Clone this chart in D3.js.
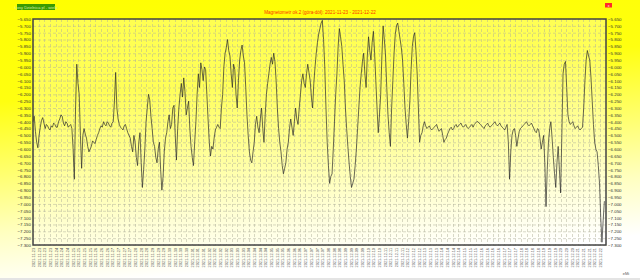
<!DOCTYPE html>
<html>
<head>
<meta charset="utf-8">
<script src="https://cdn.jsdelivr.net/npm/d3@7"></script>
<style>
  body { margin: 0; background: #fff; }
  svg { display: block; font-family: "Liberation Sans", Arial, sans-serif; }
</style>
</head>
<body>
<div id="chart"></div>
<script>
var width = 640, height = 280;
var margin = { top: 19, right: 34, bottom: 35, left: 33 };

// series: one reading every 1.5 hours from 2021-11-23 00:00
var startTime = new Date(2021, 10, 23, 0, 0);
var endTime = new Date(2021, 11, 22, 11, 0);
var stepMinutes = 90;
var values = [
  -6.40, -6.36, -6.47, -6.55, -6.59, -6.50, -6.44, -6.39, -6.37, -6.41, -6.45, -6.42, -6.43, -6.45, -6.46, -6.43, -6.44, -6.41, -6.42, -6.44,
  -6.44, -6.40, -6.38, -6.35, -6.36, -6.41, -6.43, -6.40, -6.41, -6.44, -6.43, -6.42, -6.45, -6.60, -6.82, -6.30, -5.98, -6.12, -6.20, -6.50,
  -6.74, -6.50, -6.45, -6.49, -6.52, -6.58, -6.62, -6.60, -6.58, -6.54, -6.55, -6.56, -6.53, -6.50, -6.48, -6.45, -6.43, -6.44, -6.40, -6.42,
  -6.43, -6.40, -6.41, -6.43, -6.44, -6.41, -6.40, -6.25, -6.04, -6.30, -6.38, -6.42, -6.44, -6.45, -6.46, -6.43, -6.42, -6.45, -6.48, -6.50,
  -6.52, -6.58, -6.62, -6.50, -6.55, -6.66, -6.72, -6.55, -6.48, -6.70, -6.88, -6.75, -6.60, -6.40, -6.30, -6.20, -6.24, -6.36, -6.45, -6.55,
  -6.58, -6.66, -6.70, -6.60, -6.55, -6.75, -6.90, -6.80, -6.62, -6.52, -6.48, -6.40, -6.35, -6.45, -6.42, -6.30, -6.28, -6.50, -6.68, -6.45,
  -6.30, -6.20, -6.12, -6.22, -6.08, -6.18, -6.35, -6.30, -6.25, -6.45, -6.58, -6.66, -6.72, -6.55, -6.40, -6.20, -6.05, -6.15, -5.97, -6.02,
  -6.10, -6.00, -6.02, -6.20, -6.38, -6.55, -6.65, -6.58, -6.60, -6.52, -6.46, -6.44, -6.42, -6.44, -6.45, -6.30, -6.20, -6.00, -5.90, -5.86,
  -5.80, -5.88, -5.92, -6.05, -6.15, -5.98, -6.02, -6.20, -6.30, -6.10, -5.95, -5.88, -5.84, -5.92, -5.97, -6.15, -6.35, -6.50, -6.62, -6.68,
  -6.70, -6.62, -6.55, -6.42, -6.36, -6.44, -6.48, -6.38, -6.30, -6.45, -6.55, -6.35, -6.20, -6.12, -6.05, -5.98, -5.93, -5.98, -5.90, -5.96,
  -6.10, -6.30, -6.45, -6.55, -6.62, -6.72, -6.78, -6.74, -6.70, -6.60, -6.55, -6.45, -6.38, -6.44, -6.50, -6.40, -6.30, -6.38, -6.42, -6.30,
  -6.20, -6.10, -6.05, -6.12, -6.15, -6.05, -5.98, -6.04, -6.10, -6.22, -6.30, -6.12, -6.00, -5.90, -5.82, -5.76, -5.72, -5.68, -5.66, -5.80,
  -6.00, -6.30, -6.55, -6.72, -6.85, -6.80, -6.78, -6.60, -6.40, -6.20, -6.05, -5.85, -5.72, -5.78, -5.85, -5.98, -6.10, -6.30, -6.45, -6.58,
  -6.70, -6.80, -6.88, -6.85, -6.82, -6.72, -6.60, -6.45, -6.30, -6.15, -6.05, -5.96, -5.90, -6.05, -6.15, -5.92, -5.78, -5.88, -5.95, -5.82,
  -5.74, -5.90, -6.10, -6.30, -6.48, -6.35, -6.20, -5.92, -5.70, -5.80, -5.92, -6.15, -6.35, -6.48, -6.58, -6.30, -6.10, -5.90, -5.76, -5.70,
  -5.68, -5.74, -5.80, -5.86, -5.95, -6.12, -6.30, -6.42, -6.52, -6.40, -6.25, -6.02, -5.85, -5.78, -5.75, -5.88, -6.05, -6.30, -6.55, -6.50,
  -6.48, -6.43, -6.40, -6.43, -6.45, -6.44, -6.43, -6.45, -6.46, -6.45, -6.44, -6.43, -6.42, -6.45, -6.47, -6.46, -6.45, -6.50, -6.55, -6.53,
  -6.52, -6.49, -6.47, -6.45, -6.44, -6.46, -6.45, -6.43, -6.42, -6.44, -6.43, -6.42, -6.41, -6.43, -6.44, -6.43, -6.42, -6.44, -6.45, -6.44,
  -6.43, -6.42, -6.44, -6.42, -6.41, -6.40, -6.40, -6.41, -6.42, -6.43, -6.44, -6.45, -6.43, -6.42, -6.41, -6.43, -6.44, -6.43, -6.42, -6.41,
  -6.40, -6.42, -6.43, -6.42, -6.41, -6.43, -6.44, -6.45, -6.46, -6.44, -6.42, -6.55, -6.82, -6.62, -6.50, -6.46, -6.45, -6.50, -6.58, -6.52,
  -6.47, -6.45, -6.44, -6.43, -6.42, -6.41, -6.40, -6.42, -6.43, -6.42, -6.41, -6.43, -6.45, -6.47, -6.48, -6.45, -6.46, -6.52, -6.60, -6.55,
  -6.50, -6.70, -7.02, -6.75, -6.55, -6.45, -6.40, -6.52, -6.66, -6.78, -6.88, -6.70, -6.58, -6.75, -6.92, -6.50, -6.05, -5.98, -5.96, -6.15,
  -6.35, -6.40, -6.42, -6.41, -6.40, -6.43, -6.45, -6.44, -6.43, -6.45, -6.46, -6.45, -6.44, -6.30, -6.10, -5.95, -5.88, -5.92, -5.95, -6.08,
  -6.25, -6.42, -6.55, -6.60, -6.62, -6.72, -6.85, -7.10, -7.28, -7.12, -6.98
];

var yMin = -7.30, yMax = -5.65, yStep = 0.05;
var titleText = "Magnetometr ok.2 (góra-dół): 2021-11-23 - 2021-12-22";
var legendText = "Łosy Dzielnica pl - wielo";
var cornerText = "eMi";

var data = values.map(function(v, i) {
  return { t: d3.timeMinute.offset(startTime, i * stepMinutes), v: v };
});

var svg = d3.select("#chart").append("svg")
  .attr("width", width)
  .attr("height", height);

var defs = svg.append("defs");
var grad = defs.append("linearGradient")
  .attr("id", "bg")
  .attr("x1", 0).attr("y1", 0).attr("x2", 0.2).attr("y2", 1);
grad.append("stop").attr("offset", 0).attr("stop-color", "#ffff00");
grad.append("stop").attr("offset", 0.35).attr("stop-color", "#ffff10");
grad.append("stop").attr("offset", 0.6).attr("stop-color", "#ffff70");
grad.append("stop").attr("offset", 0.8).attr("stop-color", "#ffffc0");
grad.append("stop").attr("offset", 1).attr("stop-color", "#ffffff");

svg.append("rect")
  .attr("width", width).attr("height", height)
  .attr("fill", "url(#bg)");

svg.append("rect")
  .attr("x", 0).attr("y", height - 2)
  .attr("width", width).attr("height", 2)
  .attr("fill", "#e4e4e4");

var x = d3.scaleTime()
  .domain([startTime, endTime])
  .range([margin.left, width - margin.right]);

var y = d3.scaleLinear()
  .domain([yMin, yMax])
  .range([height - margin.bottom, margin.top]);

// plot area
svg.append("rect")
  .attr("x", margin.left).attr("y", margin.top)
  .attr("width", width - margin.left - margin.right)
  .attr("height", height - margin.top - margin.bottom)
  .attr("fill", "#ffffff").attr("fill-opacity", 0.3);

var yTicks = d3.range(0, Math.round((yMax - yMin) / yStep) + 1).map(function(i) {
  return +(yMax - i * yStep).toFixed(3);
});
var xTicks = d3.range(0, 701, 7).map(function(h) {
  return d3.timeHour.offset(startTime, h);
});

// grid
svg.append("g")
  .selectAll("line")
  .data(yTicks)
  .enter().append("line")
  .attr("x1", margin.left).attr("x2", width - margin.right)
  .attr("y1", function(d) { return y(d) + 0.5; })
  .attr("y2", function(d) { return y(d) + 0.5; })
  .attr("stroke", "#b0b09a").attr("stroke-width", 0.5)
  .attr("stroke-dasharray", "3,2");

svg.append("g")
  .selectAll("line")
  .data(xTicks)
  .enter().append("line")
  .attr("x1", function(d) { return Math.round(x(d)) + 0.5; })
  .attr("x2", function(d) { return Math.round(x(d)) + 0.5; })
  .attr("y1", margin.top).attr("y2", height - margin.bottom)
  .attr("stroke", "#b0b09a").attr("stroke-width", 0.5)
  .attr("stroke-dasharray", "3,2");

// axes
var fmt = d3.format(".3f");
var yLeft = svg.append("g")
  .attr("transform", "translate(" + margin.left + ",0)")
  .call(d3.axisLeft(y).tickValues(yTicks).tickFormat(fmt).tickSize(0).tickPadding(2));
var yRight = svg.append("g")
  .attr("transform", "translate(" + (width - margin.right) + ",0)")
  .call(d3.axisRight(y).tickValues(yTicks).tickFormat(fmt).tickSize(0).tickPadding(2));
[yLeft, yRight].forEach(function(g) {
  g.select(".domain").remove();
  g.selectAll("text").attr("font-size", 4.4).attr("fill", "#333")
    .attr("font-family", "Liberation Sans, Arial, sans-serif");
});

var xAxis = svg.append("g")
  .attr("transform", "translate(0," + (height - margin.bottom) + ")")
  .call(d3.axisBottom(x).tickValues(xTicks).tickFormat(d3.timeFormat("%Y-%m-%d")).tickSize(0));
xAxis.select(".domain").remove();
xAxis.selectAll("text")
  .attr("font-size", 3.8).attr("fill", "#555")
  .attr("font-family", "Liberation Sans, Arial, sans-serif")
  .attr("transform", "rotate(-90)")
  .attr("text-anchor", "end")
  .attr("x", -3).attr("y", 0).attr("dy", "0.35em");

// series line
var line = d3.line()
  .x(function(d) { return x(d.t); })
  .y(function(d) { return y(d.v); });

svg.append("path")
  .datum(data)
  .attr("fill", "none")
  .attr("stroke", "#2a2a2a")
  .attr("stroke-width", 0.7)
  .attr("d", line);

// frame
svg.append("rect")
  .attr("x", margin.left).attr("y", margin.top)
  .attr("width", width - margin.left - margin.right)
  .attr("height", height - margin.top - margin.bottom)
  .attr("fill", "none").attr("stroke", "#444").attr("stroke-width", 1.5);

// title
svg.append("text")
  .attr("x", 320).attr("y", 14)
  .attr("text-anchor", "middle")
  .attr("font-size", 4.6)
  .attr("fill", "#ff3300")
  .text(titleText);

// legend box
svg.append("rect")
  .attr("x", 17).attr("y", 4).attr("width", 38).attr("height", 6)
  .attr("fill", "#3a9a00");
svg.append("text")
  .attr("x", 36).attr("y", 8.6)
  .attr("text-anchor", "middle")
  .attr("font-size", 4)
  .attr("fill", "#d8f0a0")
  .text(legendText);

// corner marker
svg.append("rect")
  .attr("x", 605).attr("y", 3).attr("width", 7).attr("height", 4.5)
  .attr("fill", "#ff2a2a");
svg.append("text")
  .attr("x", 608.5).attr("y", 6.6)
  .attr("text-anchor", "middle")
  .attr("font-size", 3.5)
  .attr("fill", "#fff")
  .text("x");

svg.append("text")
  .attr("x", 626).attr("y", 275)
  .attr("text-anchor", "middle")
  .attr("font-size", 4)
  .attr("fill", "#555")
  .text(cornerText);
</script>
</body>
</html>
